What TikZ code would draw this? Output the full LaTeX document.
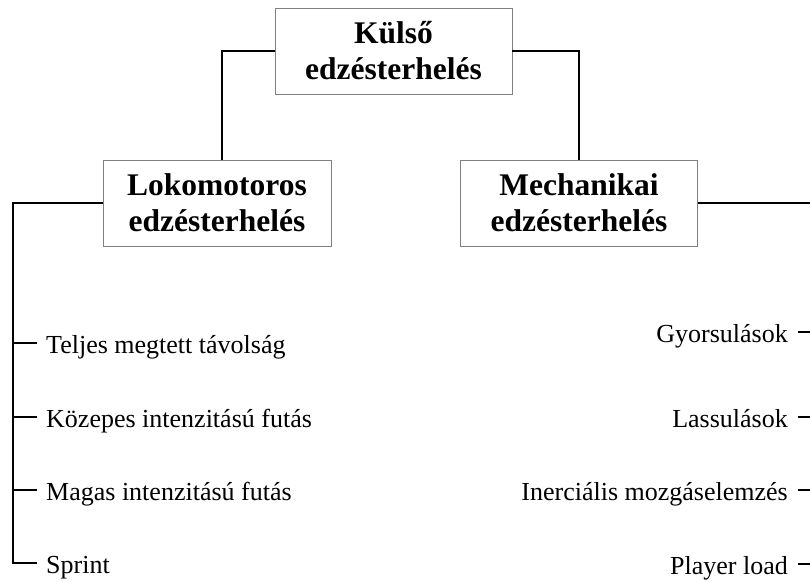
\documentclass[tikz,border=0pt]{standalone}
\usepackage{fontspec}
\setmainfont{Liberation Serif}
\begin{document}
\begin{tikzpicture}[x=1pt, y=-1pt,
  box/.style={draw=black!50, line width=0.9pt, fill=white, align=center,
    font=\bfseries\fontsize{31.5}{36}\selectfont, inner sep=0pt,
    minimum width=237pt, minimum height=86pt},
  item/.style={font=\fontsize{26}{30}\selectfont, inner sep=0pt},
  conn/.style={line width=2pt, black}]
  \useasboundingbox (0,0) rectangle (810,581);
  % Dobozok
  \node[box] (kulso) at (393.5,51) {Külső\\edzésterhelés};
  \node[box, minimum width=228pt] (loko) at (217,203) {Lokomotoros\\edzésterhelés};
  \node[box] (mech) at (579,203) {Mechanikai\\edzésterhelés};
  % Felső összekötők
  \draw[conn, line width=1.6pt] (kulso.west) -| ([xshift=5pt]loko.north);
  \draw[conn, line width=1.6pt] (kulso.east) -| (mech.north);
  % Bal oldali elemek
  \coordinate (lcorner) at (13,203);
  \foreach \y/\txt [count=\i] in {343/Teljes megtett távolság,
      417/Közepes intenzitású futás, 490/Magas intenzitású futás, 563/Sprint} {
    \coordinate (lt\i) at (37,\y);
    \node[item, anchor=base west] (l\i) at (46,\y+10) {\txt};
  }
  \draw[conn] (loko.west) -- (lcorner) -- (lcorner |- lt4) -- (lt4);
  \foreach \i in {1,2,3}
    \draw[conn, line width=1.4pt] (lt\i -| lcorner) -- (lt\i);
  % Jobb oldali elemek
  \coordinate (rcorner) at (812,203);
  \foreach \y/\txt [count=\i] in {332/Gyorsulások, 417/Lassulások,
      490/Inerciális mozgáselemzés, 564/Player load} {
    \coordinate (rt\i) at (798,\y);
    \node[item, anchor=base east] (r\i) at (788,\y+10) {\txt};
  }
  \draw[conn] (mech.east) -- (rcorner) -- (rcorner |- rt4);
  \foreach \i in {1,...,4}
    \draw[conn, line width=1.4pt] (rt\i) -- (rt\i -| rcorner);
\end{tikzpicture}
\end{document}
